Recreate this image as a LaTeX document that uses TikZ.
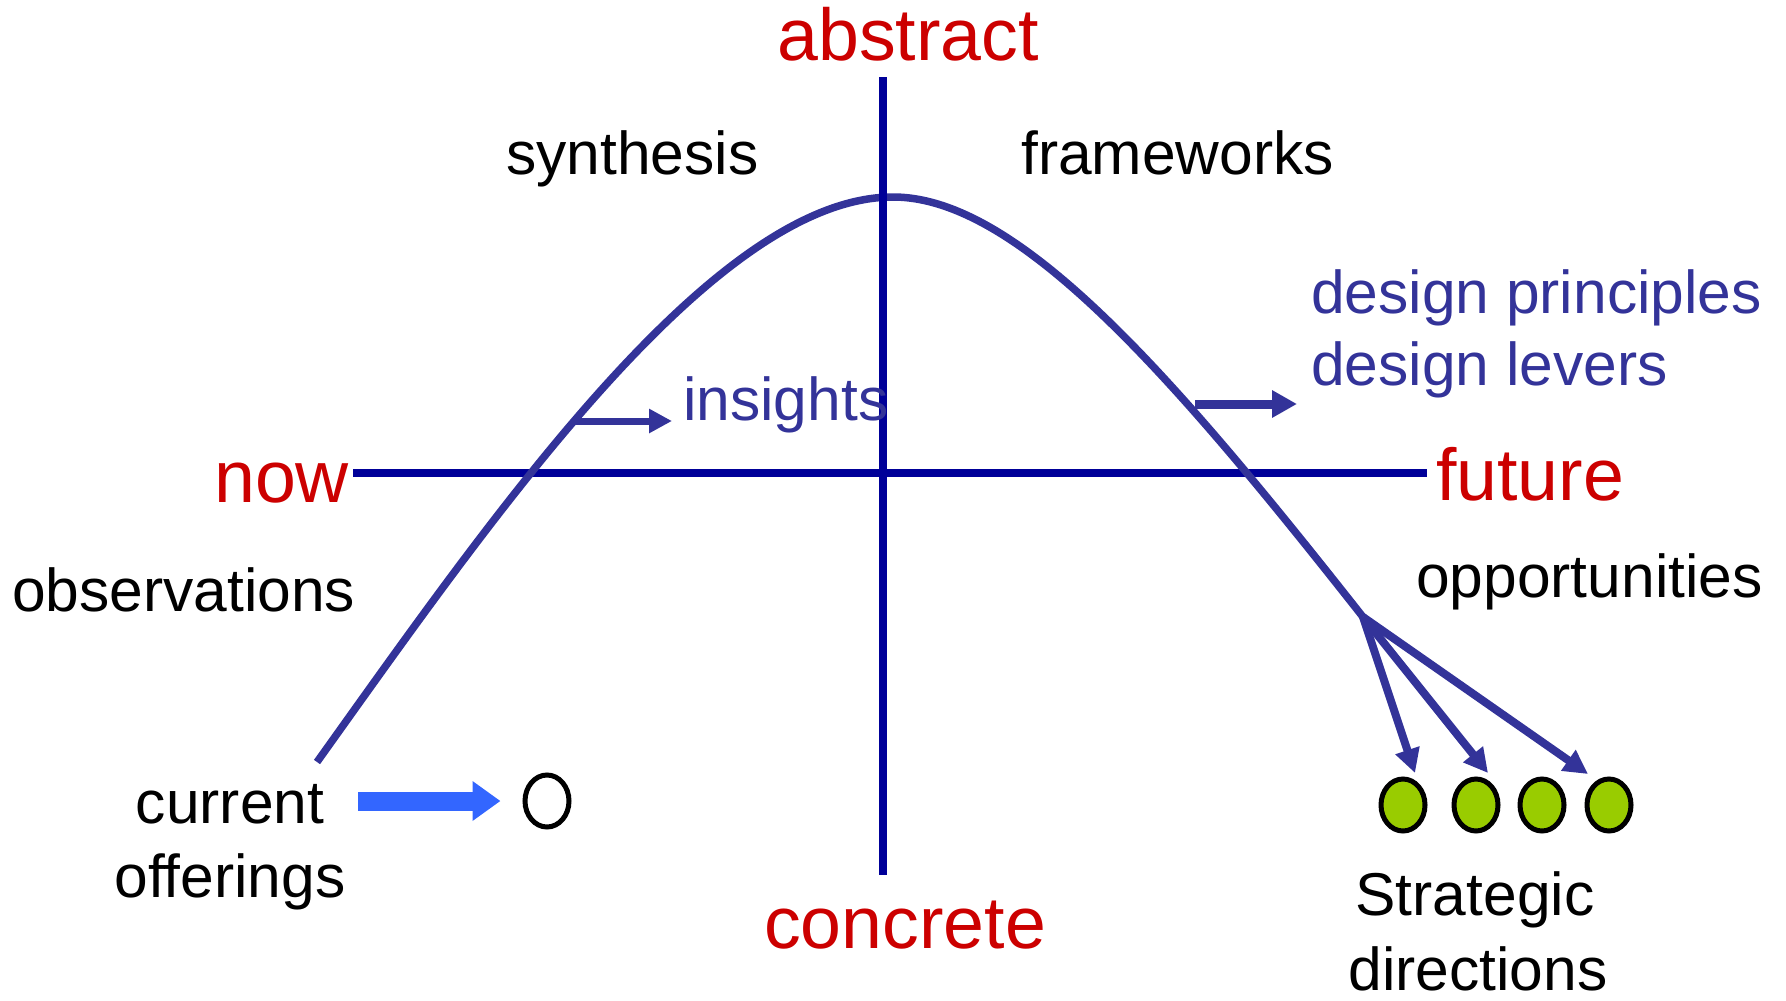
\documentclass[tikz,border=0pt]{standalone}
\usepackage{fontspec}
\setmainfont{Liberation Sans}
\usetikzlibrary{arrows.meta,shapes.geometric}
\definecolor{cred}{HTML}{CC0000}
\definecolor{cnavy}{HTML}{000099}
\definecolor{ccurve}{HTML}{333399}
\definecolor{cblue}{HTML}{3366FF}
\definecolor{cgreen}{HTML}{99CC00}
\begin{document}
\begin{tikzpicture}[x=1pt,y=-1pt,
  lbl/.style={inner sep=0pt, font=\fontsize{60.5}{73}\selectfont},
  redlbl/.style={inner sep=0pt, text=cred, font=\fontsize{73.5}{88}\selectfont},
  bluelbl/.style={lbl, text=ccurve},
  axisline/.style={draw=cnavy, line width=7.5pt},
  curveline/.style={draw=ccurve, line width=7.5pt},
  dot/.style={ellipse, draw=black, line width=5pt, minimum width=44pt, minimum height=52pt, inner sep=0pt},
  greendot/.style={dot, fill=cgreen},
  brarrow/.style={draw=ccurve, line width=8pt, -{Triangle[length=24pt,width=24pt]}},
  insarrow/.style={draw=ccurve, line width=7pt, -{Triangle[length=23pt,width=23pt]}},
  desarrow/.style={draw=ccurve, line width=9pt, -{Triangle[length=25pt,width=26pt]}},
  bigarrow/.style={draw=cblue, line width=19pt, -{Triangle[length=28pt,width=38pt]}},
]
\path[use as bounding box] (0,0) rectangle (1786,1001);

% axes and curve
\coordinate (hL) at (353,473);
\coordinate (hR) at (1427,473);
\coordinate (vT) at (883,77);
\coordinate (vB) at (883,875);
\coordinate (cS) at (317,762);
\coordinate (cP) at (893,197);
\coordinate (cE) at (1363,617);
\draw[axisline] (hL) -- (hR);
\draw[curveline] (cS) .. controls (491.6,518) and (713,197) .. (cP)
  .. controls (1020,197) and (1177,381) .. (cE);
\draw[axisline] (vT) -- (vB);

% labels
\node[redlbl, anchor=base] (abstract) at (908,60) {abstract};
\node[redlbl, anchor=base] (concrete) at (905,948) {concrete};
\node[redlbl, anchor=base west] (now) at (214,502) {now};
\node[redlbl, anchor=base west] (future) at (1436,500) {future};
\node[lbl, anchor=base west] (synthesis) at (506,174) {synthesis};
\node[lbl, anchor=base west] (frameworks) at (1021,174) {frameworks};
\node[bluelbl, anchor=base west] (dp) at (1311,313) {design principles};
\node[bluelbl, anchor=base west] (dl) at (1311,385) {design levers};
\node[bluelbl, anchor=base west] (insights) at (683,420) {insights};
\node[lbl, anchor=base west] (observations) at (12,611) {observations};
\node[lbl, anchor=base west] (opportunities) at (1416,597) {opportunities};
\node[lbl, anchor=base] (cur1) at (230,823) {current};
\node[lbl, anchor=base] (cur2) at (230,897) {offerings};
\node[lbl, anchor=base] (str1) at (1475,915) {Strategic};
\node[lbl, anchor=base] (str2) at (1478,990) {directions};

% circles
\node[dot] (o) at (547,801) {};
\node[greendot] (g1) at (1403,805) {};
\node[greendot] (g2) at (1476,805) {};
\node[greendot] (g3) at (1542,805) {};
\node[greendot] (g4) at (1609,805) {};

% arrows
\coordinate (insS) at (572,421);
\coordinate (insE) at (672,421);
\draw[insarrow] (insS) -- (insE);
\coordinate (desS) at (1195,404);
\coordinate (desE) at (1297,404);
\draw[desarrow] (desS) -- (desE);
\coordinate (bS) at (358,801);
\draw[bigarrow] (bS) -- ([xshift=-22pt]o.west);
\coordinate (t1) at (1415,773);
\coordinate (t2) at (1488,773);
\coordinate (t3) at (1588,774);
\draw[brarrow] (cE) -- (t1);
\draw[brarrow] (cE) -- (t2);
\draw[brarrow] (cE) -- (t3);
\end{tikzpicture}
\end{document}
